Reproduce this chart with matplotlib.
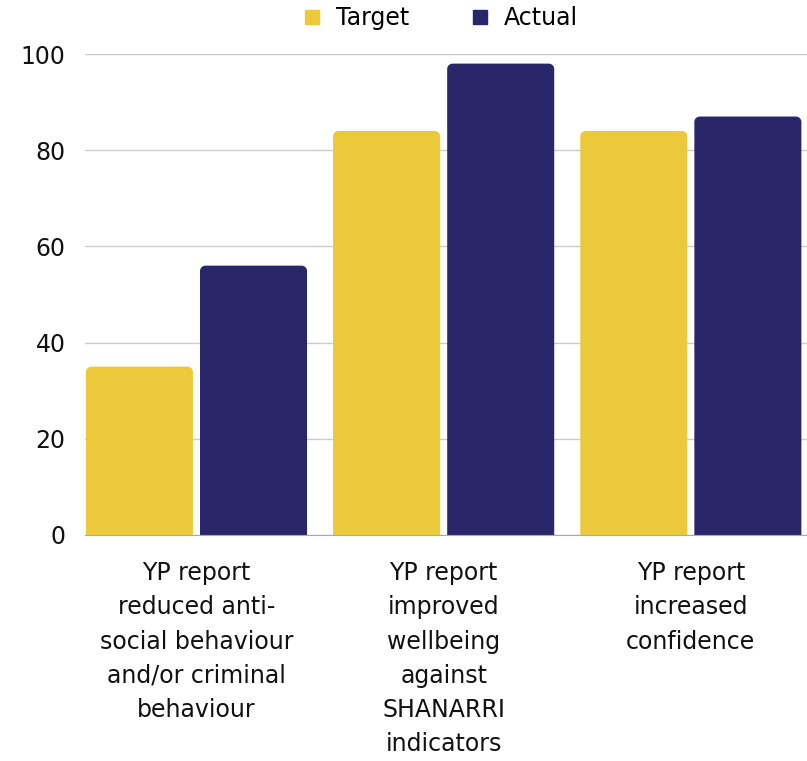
import numpy as np
import matplotlib
matplotlib.use("Agg")
import matplotlib.pyplot as plt
from matplotlib.path import Path
from matplotlib.patches import PathPatch
from matplotlib.lines import Line2D

categories = ["YP report\nreduced anti-\nsocial behaviour\nand/or criminal\nbehaviour",
              "YP report\nimproved\nwellbeing\nagainst\nSHANARRI\nindicators",
              "YP report\nincreased\nconfidence"]
target = [35, 84, 84]
actual = [56, 98, 87]
series_names = ["Target", "Actual"]
colors = ["#ECC93B", "#29276A"]

plt.rcParams['font.family'] = ['DejaVu Sans']
FS = 17

fig = plt.figure(figsize=(8.07, 7.61), dpi=100)
ax = fig.add_axes([85/807, 1-535/761, 1-85/807, (535-54)/761])

x = np.arange(len(categories))
w = 0.433
off = 0.2308


def rounded_bar(ax, xc, h, width, color, rx=0.022, ry=1.1):
    # top corners rounded, bottom square
    x0, x1 = xc - width/2, xc + width/2
    k = 0.55
    verts = [(x0, 0), (x1, 0), (x1, h - ry),
             (x1, h - ry + k*ry), (x1 - rx + k*rx, h), (x1 - rx, h),
             (x0 + rx, h),
             (x0 + rx - k*rx, h), (x0, h - ry + k*ry), (x0, h - ry),
             (x0, 0)]
    codes = [Path.MOVETO, Path.LINETO, Path.LINETO,
             Path.CURVE4, Path.CURVE4, Path.CURVE4,
             Path.LINETO,
             Path.CURVE4, Path.CURVE4, Path.CURVE4,
             Path.CLOSEPOLY]
    ax.add_patch(PathPatch(Path(verts, codes), facecolor=color, edgecolor='none', zorder=3))


for i in range(len(categories)):
    rounded_bar(ax, x[i] - off, target[i], w, colors[0])
    rounded_bar(ax, x[i] + off, actual[i], w, colors[1])

ax.set_xlim(-0.451, 2.47)
ax.set_ylim(0, 100)
ax.set_yticks([0, 20, 40, 60, 80, 100])
ax.set_xticks(x)
ax.set_xticklabels(categories, fontsize=FS, linespacing=1.53, color='#111111')
ax.tick_params(axis='y', length=0, pad=14, labelsize=FS, labelcolor='#111111')
ax.tick_params(axis='x', length=0, pad=19)
ax.grid(axis='y', color='#cccccc', linewidth=1, zorder=0)
for s in ['top', 'right', 'left']:
    ax.spines[s].set_visible(False)
ax.spines['bottom'].set_color('#aaaaaa')
ax.spines['bottom'].set_zorder(4)

handles = [Line2D([], [], marker='s', linestyle='none', markersize=10,
                  markerfacecolor=c, markeredgecolor=c) for c in colors]
fig.legend(handles, series_names, loc='center', bbox_to_anchor=(440/807, 1-18/761),
           ncol=2, frameon=False, fontsize=FS, handlelength=0.8, handletextpad=0.6,
           columnspacing=2.6)

fig.savefig("out.png", dpi=100)
